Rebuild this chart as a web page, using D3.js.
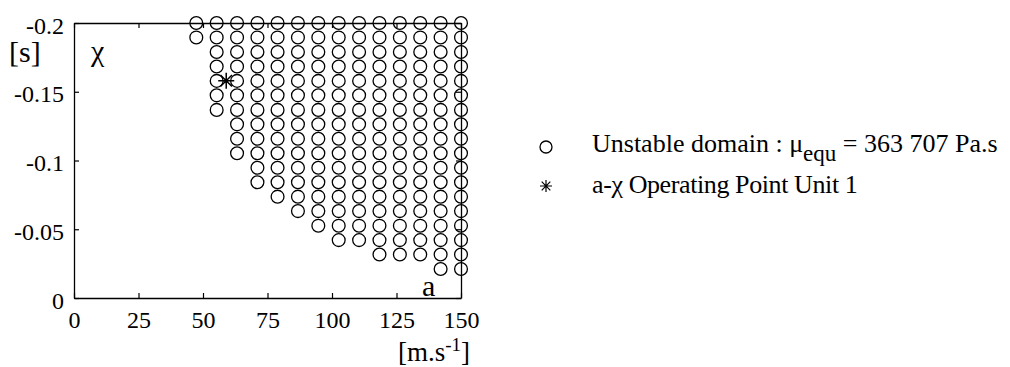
<!DOCTYPE html>
<meta charset="utf-8">
<style>
  body { margin: 0; background: #fff; }
  text { font-family: "Liberation Serif", "Times New Roman", serif; fill: #000; }
</style>
<script src="https://d3js.org/d3.v7.min.js"></script>
<div id="my_dataviz"></div>
<script>
  // grid of the stability scan (a in m/s, chi in s)
  var aValues = [47.4, 55.3, 63.2, 71.1, 78.9, 86.8, 94.7, 102.6, 110.5, 118.4, 126.3, 134.2, 142.1, 150];
  var chiValues = [-0.2, -0.1895, -0.1789, -0.1684, -0.1579, -0.1474, -0.1368, -0.1263, -0.1158,
    -0.1053, -0.0947, -0.0842, -0.0737, -0.0632, -0.0526, -0.0421, -0.0316, -0.0211];
  // last unstable chi of each a column
  var chiEdge = [-0.1895, -0.1368, -0.1053, -0.0842, -0.0737, -0.0632, -0.0526, -0.0421, -0.0421,
    -0.0316, -0.0316, -0.0316, -0.0211, -0.0211];
  var opA = [59];
  var opChi = [-0.158];
  var xTicks = [0, 25, 50, 75, 100, 125, 150];
  var yTicks = [0, -0.05, -0.1, -0.15, -0.2];
  var legendLabels = ["Unstable domain : \u03bc", "a-\u03c7 Operating Point Unit 1"];

  var width = 1010, height = 367;

  var svg = d3.select("#my_dataviz")
    .append("svg")
    .attr("width", width)
    .attr("height", height);

  var x = d3.scaleLinear().domain([0, 150]).range([74, 461]);
  var y = d3.scaleLinear().domain([0, -0.2]).range([298, 23]);

  var points = [];
  aValues.forEach(function (a, i) {
    chiValues.forEach(function (c) {
      if (c <= chiEdge[i] + 1e-6) points.push({ a: a, chi: c });
    });
  });

  function starPath(r) {
    var d = r * 0.72;
    return "M" + (-r) + ",0L" + r + ",0M0," + (-r) + "L0," + r +
      "M" + (-d) + "," + (-d) + "L" + d + "," + d + "M" + (-d) + "," + d + "L" + d + "," + (-d);
  }

  // axes, ticks pointing inward on all four sides
  function styleAxis(g) {
    g.attr("font-family", null).attr("font-size", null);
    g.selectAll("path").attr("stroke", "#000").attr("stroke-width", 1.3);
    g.selectAll("line").attr("stroke", "#000").attr("stroke-width", 1.2);
    g.selectAll("text").style("font-size", "24px").attr("fill", "#000");
  }

  svg.append("g")
    .attr("transform", "translate(0," + y(0) + ")")
    .call(d3.axisBottom(x).tickValues(xTicks).tickSizeInner(-5).tickSizeOuter(0).tickPadding(13)
      .tickFormat(function (d) { return String(d); }))
    .call(styleAxis);

  svg.append("g")
    .attr("transform", "translate(0," + y(-0.2) + ")")
    .call(d3.axisTop(x).tickValues(xTicks).tickSizeInner(-5).tickSizeOuter(0).tickFormat(""))
    .call(styleAxis);

  svg.append("g")
    .attr("transform", "translate(" + x(0) + ",0)")
    .call(d3.axisLeft(y).tickValues(yTicks).tickSizeInner(-5).tickSizeOuter(0).tickPadding(10)
      .tickFormat(function (d) { return String(d); }))
    .call(styleAxis)
    .selectAll("text").attr("dy", "0.42em");

  svg.append("g")
    .attr("transform", "translate(" + x(150) + ",0)")
    .call(d3.axisRight(y).tickValues(yTicks).tickSizeInner(-5).tickSizeOuter(0).tickFormat(""))
    .call(styleAxis);

  // unstable points
  svg.selectAll("circle.pt")
    .data(points)
    .enter()
    .append("circle")
    .attr("class", "pt")
    .attr("cx", function (d) { return x(d.a); })
    .attr("cy", function (d) { return y(d.chi); })
    .attr("r", 6.4)
    .attr("fill", "none")
    .attr("stroke", "#000")
    .attr("stroke-width", 1.3);

  // operating point
  svg.selectAll("path.op")
    .data(opA)
    .enter()
    .append("path")
    .attr("class", "op")
    .attr("d", starPath(8))
    .attr("transform", function (d, i) { return "translate(" + x(d) + "," + y(opChi[i]) + ")"; })
    .attr("stroke", "#000")
    .attr("stroke-width", 1.5);

  // axis labels
  svg.append("text").attr("x", 9).attr("y", 62).style("font-size", "30px").text("[s]");
  svg.append("text").attr("x", 91).attr("y", 61).style("font-size", "30px").text("\u03c7");
  svg.append("text").attr("x", 422).attr("y", 296).style("font-size", "30px").text("a");
  var xl = svg.append("text").attr("x", 434).attr("y", 361).attr("text-anchor", "middle")
    .style("font-size", "27px");
  xl.append("tspan").text("[m.s");
  xl.append("tspan").attr("dy", -10).style("font-size", "19px").text("-1");
  xl.append("tspan").attr("dy", 10).text("]");

  // legend
  var legend = svg.append("g").attr("transform", "translate(546,0)");
  legend.append("circle").attr("cx", 0).attr("cy", 147).attr("r", 6)
    .attr("fill", "none").attr("stroke", "#000").attr("stroke-width", 1.3);
  legend.append("path").attr("d", starPath(6)).attr("transform", "translate(0,186)")
    .attr("stroke", "#000").attr("stroke-width", 1.2);

  var l1 = legend.append("text").attr("x", 46).attr("y", 152).style("font-size", "26px");
  l1.append("tspan").text(legendLabels[0]);
  l1.append("tspan").attr("dy", 9).style("font-size", "23px").text("equ");
  l1.append("tspan").attr("dy", -9).text(" = 363 707 Pa.s");
  legend.append("text").attr("x", 46).attr("y", 193).style("font-size", "26px")
    .style("letter-spacing", "-0.4px").text(legendLabels[1]);
</script>
